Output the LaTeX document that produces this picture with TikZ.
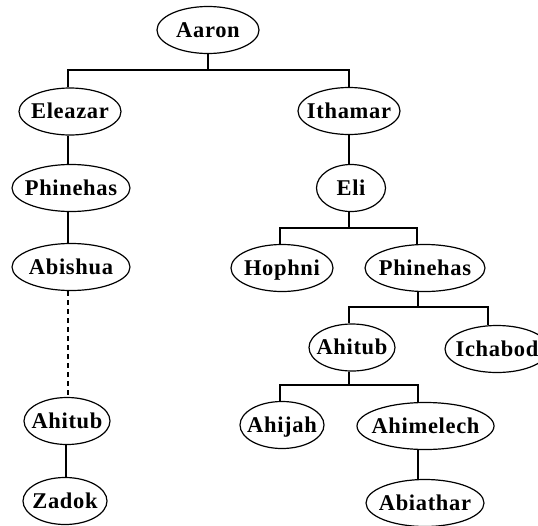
\documentclass[tikz,border=0pt]{standalone}
\usepackage{fontspec}
\newfontfamily\personfont[LetterSpace=3]{Liberation Serif}
\usetikzlibrary{shapes.geometric}
\begin{document}
\begin{tikzpicture}[x=1pt,y=-1pt,
  person/.style={draw, ellipse, line width=1.2pt, inner sep=0pt,
    minimum height=47pt, text height=17pt, text depth=3pt,
    font=\personfont\bfseries\fontsize{22.5}{26}\selectfont},
  link/.style={line width=1.35pt},
  dlink/.style={line width=1.35pt, dash pattern=on 5pt off 4pt}]
\useasboundingbox (0,0) rectangle (538,525);
\clip (0,0) rectangle (538,525);
% persons
\node[person, minimum width=102pt] (aaron) at (208,30) {\makebox[0pt]{Aaron}};
\node[person, minimum width=102pt] (eleazar) at (70,111.5) {\makebox[0pt]{Eleazar}};
\node[person, minimum width=102pt] (ithamar) at (349,111) {\makebox[0pt]{Ithamar}};
\node[person, minimum width=118pt] (phinL) at (71,188) {\makebox[0pt]{Phinehas}};
\node[person, minimum width=69pt] (eli) at (351,188) {\makebox[0pt]{Eli}};
\node[person, minimum width=118pt] (abishua) at (71,267) {\makebox[0pt]{Abishua}};
\node[person, minimum width=102pt] (hophni) at (282,268) {\makebox[0pt]{Hophni}};
\node[person, minimum width=120pt] (phinR) at (425,268) {\makebox[0pt]{Phinehas}};
\node[person, minimum width=86pt] (ahitubR) at (352,347.5) {\makebox[0pt]{Ahitub}};
\node[person, minimum width=104pt] (ichabod) at (497,349) {\makebox[0pt]{Ichabod}};
\node[person, minimum width=86pt] (ahitubL) at (67,421) {\makebox[0pt]{Ahitub}};
\node[person, minimum width=84pt] (ahijah) at (282,425) {\makebox[0pt]{Ahijah}};
\node[person, minimum width=137pt] (ahimelech) at (425.5,426) {\makebox[0pt]{Ahimelech}};
\node[person, minimum width=84pt] (zadok) at (65,501) {\makebox[0pt]{Zadok}};
\node[person, minimum width=118pt] (abiathar) at (425,503) {\makebox[0pt]{Abiathar}};
% bar coordinates
\coordinate (b1l) at (68,70);  \coordinate (b1r) at (349,70);
\coordinate (xl) at (68,0);    \coordinate (xz) at (66,0);
\coordinate (b2l) at (280,228); \coordinate (b2r) at (417,228);
\coordinate (xe) at (349,0);
\coordinate (b3l) at (349,307); \coordinate (b3r) at (488,307);
\coordinate (xp) at (418,0);
\coordinate (b4l) at (280,385); \coordinate (b4r) at (418,385);
% connectors
\draw[link] (aaron.south) -- (aaron.south |- b1l);
\draw[link] (b1l |- eleazar.north) -- (b1l) -- (b1r) -- (b1r |- ithamar.north);
\draw[link] (xl |- eleazar.south) -- (xl |- phinL.north);
\draw[link] (xl |- phinL.south) -- (xl |- abishua.north);
\draw[dlink] (xl |- abishua.south) -- (xl |- ahitubL.north);
\draw[link] (xz |- ahitubL.south) -- (xz |- zadok.north);
\draw[link] (xe |- ithamar.south) -- (xe |- eli.north);
\draw[link] (xe |- eli.south) -- (xe |- b2l);
\draw[link] (b2l |- hophni.north) -- (b2l) -- (b2r) -- (b2r |- phinR.north);
\draw[link] (xp |- phinR.south) -- (xp |- b3l);
\draw[link] (b3l |- ahitubR.north) -- (b3l) -- (b3r) -- (b3r |- ichabod.north);
\draw[link] (xe |- ahitubR.south) -- (xe |- b4l);
\draw[link] (b4l |- ahijah.north) -- (b4l) -- (b4r) -- (b4r |- ahimelech.north);
\draw[link] (xp |- ahimelech.south) -- (xp |- abiathar.north);
\end{tikzpicture}
\end{document}
